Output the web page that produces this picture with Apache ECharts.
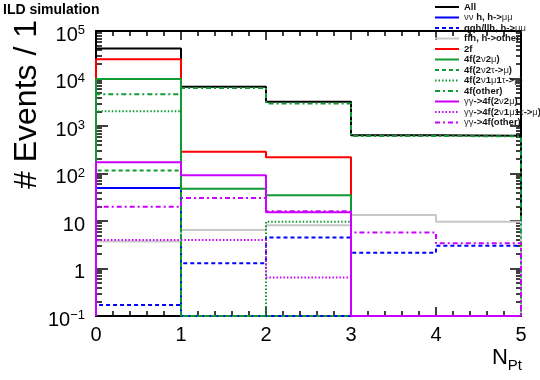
<!DOCTYPE html>
<html>
<head>
<meta charset="utf-8">
<script src="https://cdn.jsdelivr.net/npm/echarts@6/dist/echarts.min.js"></script>
<style>
html,body{margin:0;padding:0;background:#fff;}
#chart{width:540px;height:380px;}
</style>
</head>
<body>
<div id="chart"></div>
<script>
// ---- data (bins of N_Pt: [0,1),[1,2),[2,3),[3,4),[4,5)) ----
const binEdges = [0, 1, 2, 3, 4, 5];
const xTicks = [0, 1, 2, 3, 4, 5];
const yMin = 0.1, yMax = 1e5;
const seriesNames = [
  'All', 'νν h, h->μμ', 'qqh/llh, h->μμ', 'ffh, h->other', '2f',
  '4f(2ν2μ)', '4f(2ν2τ->μ)', '4f(2ν1μ1τ->μ)', '4f(other)',
  'γγ->4f(2ν2μ)', 'γγ->4f(2ν1μ1τ->μ)', 'γγ->4f(other)'
];
const allEv      = [43000, 6700, 3250, 637, 620];
const nnh        = [49.5, 0, 0, 0, 0];
const qqh        = [0.17, 1.29, 4.5, 2.15, 3.0];
const ffh        = [3.7, 6.5, 8.1, 13.4, 9.7];
const twoF       = [25400, 288, 219, 0, 0];
const f4_2n2m    = [9800, 48, 35, 0, 0];
const f4_2n2t    = [115, 0, 0, 0, 0];
const f4_2n1m1t  = [2040, 0, 9.7, 0, 0];
const f4_other   = [4650, 6300, 2980, 618, 605];
const gg_2n2m    = [172, 92, 15.2, 0, 0];
const gg_2n1m1t  = [4.0, 4.0, 0.65, 0, 0];
const gg_other   = [20, 30.5, 16, 5.7, 3.4];

const seriesValues = [allEv, nnh, qqh, ffh, twoF, f4_2n2m, f4_2n2t, f4_2n1m1t, f4_other, gg_2n2m, gg_2n1m1t, gg_other];

// ---- styles ----
const GREEN = '#109a33', MAG = '#cc00ff', BLUE = '#0000ff';
const styles = [
  {color:'#000000', type:'solid'},
  {color:BLUE, type:'solid'},
  {color:BLUE, type:[4,3]},
  {color:'#c8c8c8', type:'solid'},
  {color:'#ff0000', type:'solid'},
  {color:GREEN, type:'solid'},
  {color:GREEN, type:[4,3]},
  {color:GREEN, type:[1.5,2]},
  {color:GREEN, type:[5,3,2,3]},
  {color:MAG, type:'solid'},
  {color:MAG, type:[1.5,2]},
  {color:MAG, type:[5,3,2,3]}
];

function histPoints(vals) {
  const c = v => (v > yMin ? v : yMin);
  const pts = [[binEdges[0], yMin]];
  for (let i = 0; i < vals.length; i++) pts.push([binEdges[i], c(vals[i])]);
  pts.push([binEdges[binEdges.length - 1], c(vals[vals.length - 1])]);
  pts.push([binEdges[binEdges.length - 1], yMin]);
  return pts;
}

const minorVals = [];
for (let k = -1; k < 5; k++) for (let m = 2; m <= 9; m++) minorVals.push(m * Math.pow(10, k));

const series = seriesNames.map((name, i) => ({
  name: name,
  type: 'line',
  step: 'end',
  symbol: 'none',
  showSymbol: false,
  xAxisIndex: 0,
  yAxisIndex: 0,
  data: histPoints(seriesValues[i]),
  lineStyle: {color: styles[i].color, type: styles[i].type, width: 2},
  itemStyle: {color: styles[i].color},
  animation: false
}));

const FONT = 'Liberation Sans, Arial, Helvetica, sans-serif';

function yLabel(v) {
  const e = Math.round(Math.log10(v));
  if (e === 0) return '{b|1}';
  if (e === 1) return '{b|10}';
  return '{b|10}{sup|' + (e < 0 ? '\u2212' + (-e) : e) + '}';
}

const axisLineStyle = {color:'#000', width:2};
const xBase = {
  type:'value', min:0, max:5, interval:1,
  splitLine:{show:false},
  axisLine:{show:true, onZero:false, lineStyle:axisLineStyle},
  axisTick:{show:true, inside:true, length:9, lineStyle:{color:'#000', width:1.5}},
  minorTick:{show:true, splitNumber:5, length:5, lineStyle:{color:'#000', width:1.5}}
};
const yBase = {
  type:'log', logBase:10, min:yMin, max:yMax,
  splitLine:{show:false}, minorSplitLine:{show:false}
};

const option = {
  animation:false,
  grid:{left:96, right:19, top:31, bottom:64, containLabel:false},
  legend:{
    orient:'vertical', left:429, top:-3,
    itemWidth:24, itemHeight:10, itemGap:0.5,
    data:seriesNames,
    itemStyle:{color:'transparent', borderColor:'transparent', borderWidth:0, opacity:0},
    textStyle:{fontFamily:FONT, fontSize:9.5, fontWeight:'bold', color:'#111', lineHeight:10,
      rich:{g:{fontFamily:FONT, fontSize:9.5, fontWeight:'normal', color:'#333'}}},
    formatter: name => name.replace(/([νμτγ]+)/g, '{g|$1}')
  },
  xAxis:[
    Object.assign({}, xBase, {position:'bottom',
      axisLabel:{show:true, margin:9, fontFamily:FONT, fontSize:20, color:'#000',
        formatter: v => (xTicks.indexOf(v) >= 0 ? String(v) : '')}}),
    Object.assign({}, xBase, {position:'top', axisLabel:{show:false}})
  ],
  yAxis:[
    Object.assign({}, yBase, {position:'left',
      axisLine:{show:true, lineStyle:axisLineStyle},
      axisTick:{show:true, inside:true, length:12, lineStyle:{color:'#000', width:1.5}},
      axisLabel:{show:true, margin:11, fontFamily:FONT, color:'#000', padding:[8,0,0,0],
        formatter: yLabel,
        rich:{b:{fontFamily:FONT, fontSize:20, color:'#000'},
              sup:{fontFamily:FONT, fontSize:13, color:'#000', padding:[0,0,9,0]}}}}),
    Object.assign({}, yBase, {position:'left',
      axisLine:{show:false},
      axisTick:{show:true, inside:true, length:6, customValues:minorVals, lineStyle:{color:'#000', width:1.5}},
      axisLabel:{show:false}}),
    Object.assign({}, yBase, {position:'right',
      axisLine:{show:true, lineStyle:axisLineStyle},
      axisTick:{show:true, inside:true, length:11, lineStyle:{color:'#000', width:1.5}},
      axisLabel:{show:false}}),
    Object.assign({}, yBase, {position:'right',
      axisLine:{show:false},
      axisTick:{show:true, inside:true, length:5, customValues:minorVals, lineStyle:{color:'#000', width:1.5}},
      axisLabel:{show:false}})
  ],
  graphic:[
    {type:'text', left:3, top:3, style:{text:'ILD simulation', fontFamily:FONT, fontSize:14, fontWeight:'bold', fill:'#000'}},
    {type:'text', x:27, y:20, rotation:Math.PI/2,
      style:{text:'# Events / 1', fontFamily:FONT, fontSize:32, fill:'#000', align:'right', verticalAlign:'middle'}},
    {type:'text', x:522, y:358,
      style:{text:'{n|N}{s|Pt}', align:'right', verticalAlign:'middle', fill:'#000',
        rich:{n:{fontFamily:FONT, fontSize:22, fill:'#000'},
              s:{fontFamily:FONT, fontSize:15, fill:'#000', padding:[16,0,0,0]}}}}
  ],
  series: series
};

const chart = echarts.init(document.getElementById('chart'), null, {renderer:'canvas'});
chart.setOption(option);
</script>
</body>
</html>
